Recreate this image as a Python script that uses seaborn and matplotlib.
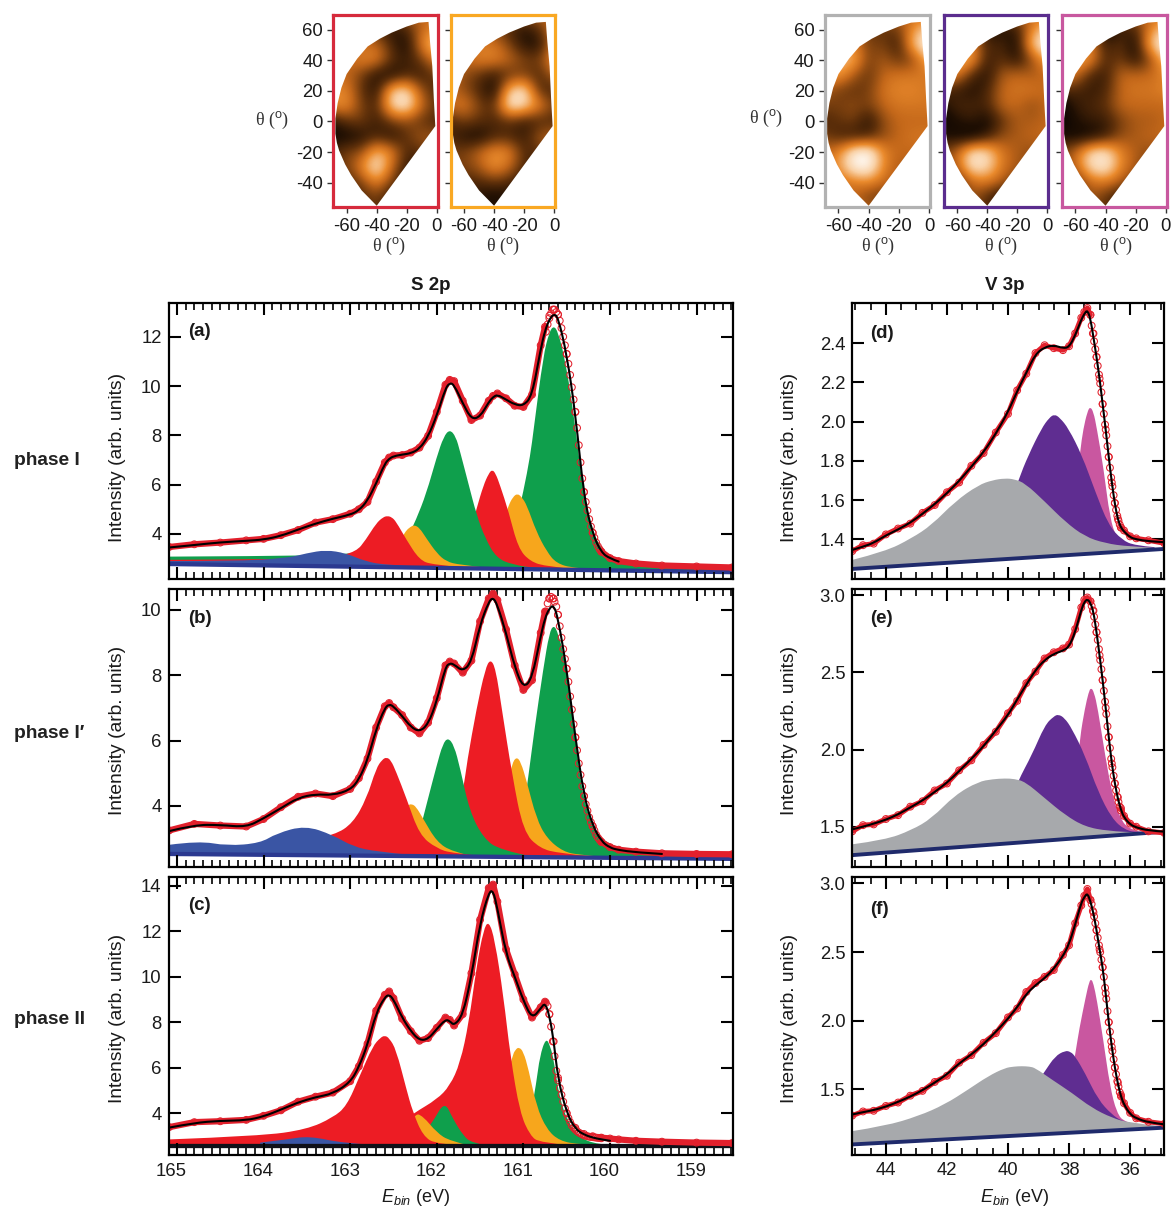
import numpy as np
import matplotlib
matplotlib.use("Agg")
import matplotlib.pyplot as plt
import matplotlib.transforms as mtrans
from matplotlib.colors import LinearSegmentedColormap
from matplotlib.patches import Polygon, PathPatch
from matplotlib.path import Path
from matplotlib.ticker import MultipleLocator, FixedLocator
import seaborn as sns

nan = np.nan
# ---------------- S 2p: shared energy grids ----------------
s_e = [165.09,164.8,164.5,164.2,164.0,163.8,163.6,163.4,163.2,163.0,162.9,162.8,162.7,162.6,162.55,162.5,162.4,162.3,162.2,162.1,162.0,161.9,161.85,161.8,161.7,161.6,161.5,161.4,161.35,161.3,161.2,161.1,161.0,160.9,160.8,160.75,160.7,160.65,160.6,160.5,160.4,160.3,160.2,160.1,160.0,159.9,159.7,159.4,159.0,158.59]
a_fit = [3.45,3.55,3.66,3.72,3.77,3.92,4.18,4.42,4.62,4.78,4.95,5.35,6.05,6.85,7.05,7.15,7.22,7.27,7.45,7.95,8.8,9.9,10.13,10.05,9.3,8.65,8.75,9.35,9.55,9.65,9.45,9.25,9.2,9.6,11.5,12.25,12.7,12.92,12.8,11.3,8.9,5.5,4.0,3.25,3.0,2.88,nan,nan,nan,nan]
a_meas = [3.47,3.58,3.65,3.74,3.8,3.95,4.16,4.46,4.6,4.82,5.0,5.3,6.12,6.9,7.1,7.18,7.2,7.3,7.5,7.98,8.95,10.05,10.25,10.2,9.4,8.62,8.8,9.4,9.6,9.7,9.5,9.2,9.15,9.65,11.65,12.4,12.85,13.1,12.9,11.3,8.95,5.7,4.05,3.28,3.02,2.9,2.8,2.72,2.68,2.64]
b_fit = [3.23,3.42,3.42,3.35,3.62,3.93,4.25,4.36,4.33,4.49,4.8,5.4,6.35,7.0,7.11,7.05,6.75,6.42,6.27,6.5,7.2,8.25,8.37,8.33,8.12,8.4,9.55,10.25,10.38,10.15,9.3,8.25,7.6,7.9,9.2,9.75,10.05,10.15,9.74,8.2,6.1,4.3,3.4,2.92,2.72,2.65,2.58,2.53,nan,nan]
b_meas = [3.25,3.45,3.4,3.37,3.6,3.96,4.28,4.38,4.3,4.52,4.85,5.45,6.4,7.05,7.15,7.02,6.78,6.4,6.22,6.55,7.3,8.3,8.42,8.36,8.08,8.45,9.65,10.35,10.5,10.3,9.4,8.3,7.55,7.85,9.3,9.95,10.35,10.35,9.85,8.2,6.1,4.3,3.38,2.9,2.74,2.66,2.6,2.55,2.53,2.52]
c_fit = [3.36,3.57,3.66,3.68,3.85,4.15,4.47,4.7,4.85,5.35,6.02,7.0,8.41,9.1,9.21,9.0,8.2,7.6,7.2,7.25,7.7,8.11,8.05,7.85,8.3,10.0,12.36,13.7,13.8,13.0,11.0,10.0,8.95,8.15,8.6,8.85,8.3,7.2,5.5,4.0,3.3,3.05,2.92,2.84,2.78,nan,nan,nan,nan,nan]
c_meas = [3.38,3.6,3.64,3.7,3.88,4.12,4.5,4.72,4.9,5.4,6.05,7.05,8.5,9.2,9.35,9.05,8.15,7.6,7.18,7.3,7.75,8.2,8.1,7.85,8.35,10.15,12.5,13.9,14.05,13.3,11.2,10.1,9.0,8.2,8.65,8.9,8.35,7.15,5.55,4.0,3.35,3.08,2.98,2.92,2.88,2.84,2.78,2.74,2.7,2.68]

# falling edge of the S 2p data, read circle by circle
s_edge_e = [160.74,160.72,160.70,160.68,160.66,160.64,160.62,160.60,160.58,160.56,160.54,160.52,160.50,160.48,160.46,160.44,160.42,160.40,160.38,160.36,160.34,160.32,160.30,160.28,160.26,160.24,160.22,160.20,160.18,160.16,160.14,160.12,160.10]
a_edge = [12.2,12.5,12.75,12.95,13.1,13.1,13.0,12.9,12.65,12.35,12.0,11.65,11.3,10.9,10.45,9.95,9.45,8.95,8.3,7.6,6.9,6.25,5.7,5.3,4.95,4.6,4.3,4.05,3.85,3.65,3.5,3.38,3.28]
b_edge = [9.95,10.2,10.35,10.4,10.35,10.25,10.1,9.85,9.5,9.15,8.8,8.5,8.2,7.8,7.35,6.95,6.5,6.1,5.7,5.3,4.95,4.6,4.3,4.05,3.85,3.65,3.5,3.38,3.25,3.12,3.03,2.96,2.9]
c_edge = [8.85,8.7,8.35,7.8,7.15,6.5,5.85,5.45,5.1,4.8,4.5,4.2,3.98,3.78,3.6,3.45,3.35,3.27,3.2,3.14,3.1,3.06,3.02,3.0,2.98,2.96,2.95,2.94,2.93,2.92,2.91,2.9,2.89]

# ---------------- S 2p components: panel (a) ----------------
a_blue_e = [165.09,164.35,163.74,163.5,163.28,163.05,162.82,162.58,162.2]
a_blue_i = [2.9,2.9,3.01,3.22,3.35,3.22,2.88,2.74,2.68]
a_red1_e = [165.09,163.6,163.2,162.93,162.82,162.7,162.62,162.57,162.52,162.47,162.35,162.2,162.05,161.7]
a_red1_i = [2.95,2.98,3.05,3.28,3.76,4.43,4.68,4.73,4.68,4.5,3.76,2.95,2.75,2.65]
a_org1_e = [162.5,162.37,162.3,162.26,162.2,162.12,162.0,161.89,161.74,161.4]
a_org1_i = [3.3,4.09,4.3,4.36,4.25,3.82,3.22,2.88,2.75,2.62]
a_grn1_e = [165.09,164.0,163.2,162.5,162.35,162.24,162.12,162.0,161.92,161.85,161.78,161.73,161.63,161.54,161.44,161.31,161.12,160.85,160.4]
a_grn1_i = [3.08,3.1,3.15,3.35,3.76,4.57,5.65,7.13,7.95,8.24,7.95,7.33,5.98,4.77,3.82,3.02,2.75,2.61,2.5]
a_red2_e = [162.0,161.73,161.62,161.54,161.46,161.4,161.36,161.32,161.27,161.17,161.06,160.92,160.73,160.3]
a_red2_i = [2.8,3.15,3.96,5.04,5.98,6.45,6.61,6.45,5.98,4.9,3.42,2.88,2.68,2.52]
a_org2_e = [161.5,161.3,161.17,161.12,161.07,161.02,160.96,160.85,160.73,160.62,160.42,160.0]
a_org2_i = [2.8,3.9,5.17,5.5,5.64,5.5,5.17,4.09,3.29,2.81,2.61,2.5]
a_grn2_e = [161.55,161.38,161.23,161.1,161.0,160.92,160.88,160.77,160.7,160.65,160.6,160.52,160.42,160.31,160.19,159.96,159.65,158.59]
a_grn2_i = [2.62,2.75,3.02,4.23,5.71,7.19,8.27,11.23,12.2,12.44,12.2,11.1,8.94,5.71,3.82,2.88,2.68,2.55]
a_base_e = [165.09,158.59]
a_base_i = [2.78,2.45]

# ---------------- S 2p components: panel (b) ----------------
b_blue_e = [165.09,164.75,164.42,164.04,163.85,163.52,163.2,162.97,162.7,162.3]
b_blue_i = [2.81,2.93,2.78,2.86,3.16,3.4,3.11,2.76,2.6,2.5]
b_red1_e = [164.45,164.3,164.05,163.6,163.18,162.97,162.81,162.7,162.63,162.58,162.53,162.47,162.35,162.2,162.0,161.82,161.4]
b_red1_i = [2.7,2.78,2.8,2.9,3.11,3.47,4.23,5.15,5.42,5.49,5.4,5.05,4.23,3.11,2.7,2.55,2.45]
b_org1_e = [162.6,162.4,162.33,162.29,162.24,162.16,162.0,161.82,161.6]
b_org1_i = [2.8,3.9,4.03,4.06,3.98,3.62,2.9,2.6,2.47]
b_grn1_e = [162.5,162.2,162.12,162.0,161.93,161.87,161.8,161.73,161.62,161.46,161.27,160.9]
b_grn1_i = [2.7,3.2,4.03,5.25,5.9,6.09,5.85,5.15,3.83,3.01,2.65,2.45]
b_red2_e = [162.1,161.85,161.69,161.65,161.54,161.44,161.38,161.32,161.25,161.13,161.0,160.81,160.58,160.2]
b_red2_i = [2.55,2.9,4.54,5.36,6.99,8.2,8.5,8.2,6.99,4.95,3.21,2.7,2.55,2.45]
b_org2_e = [161.4,161.2,161.13,161.08,161.03,160.96,160.85,160.73,160.54,160.35,160.0]
b_org2_i = [2.7,4.5,5.3,5.5,5.35,4.74,3.62,3.01,2.6,2.5,2.42]
b_grn2_e = [161.4,161.15,161.0,160.94,160.87,160.77,160.7,160.65,160.6,160.52,160.42,160.31,160.15,159.96,159.65,158.59]
b_grn2_i = [2.6,2.9,3.8,4.95,6.38,8.2,9.3,9.54,9.3,8.5,6.48,4.13,3.11,2.76,2.6,2.5]
b_base_e = [165.09,158.59]
b_base_i = [2.53,2.38]

# ---------------- S 2p components: panel (c) ----------------
c_blue_e = [164.04,163.73,163.47,163.08,162.7]
c_blue_i = [2.7,2.84,2.99,2.67,2.6]
c_red1_e = [165.09,164.04,163.5,163.2,163.04,162.89,162.74,162.65,162.6,162.55,162.47,162.35,162.28,162.16,162.0,161.6]
c_red1_i = [2.84,2.99,3.28,3.8,4.31,5.63,6.94,7.32,7.41,7.3,6.8,5.04,4.09,2.99,2.62,2.55]
c_org1_e = [162.4,162.26,162.16,162.0,161.85,161.6]
c_org1_i = [3.0,4.0,3.87,3.14,2.77,2.55]
c_grn1_e = [162.2,162.05,161.91,161.81,161.69,161.6,161.4]
c_grn1_i = [2.8,3.58,4.53,3.72,2.99,2.7,2.55]
c_red2_e = [163.0,162.6,162.26,162.0,161.85,161.73,161.63,161.54,161.46,161.4,161.33,161.23,161.15,161.04,160.92,160.81,160.4]
c_red2_i = [2.7,3.1,4.01,4.6,5.19,6.2,7.97,10.46,12.07,12.46,11.63,9.14,6.5,4.01,3.0,2.7,2.55]
c_org2_e = [161.4,161.13,161.09,161.05,161.0,160.94,160.85,160.73,160.58,160.35,160.0]
c_org2_i = [2.8,6.5,6.8,6.9,6.7,5.92,4.31,3.28,2.77,2.62,2.55]
c_grn2_e = [161.1,160.94,160.85,160.81,160.74,160.69,160.65,160.58,160.48,160.35,160.15,159.9]
c_grn2_i = [2.6,3.4,5.33,6.5,7.31,6.95,6.36,4.6,3.58,2.92,2.62,2.55]
c_base_e = [165.09,158.59]
c_base_i = [2.54,2.54]

# ---------------- V 3p: shared energy grids ----------------
v_e = [45.1,44.75,44.4,44.0,43.6,43.2,42.8,42.4,42.0,41.6,41.2,40.8,40.4,40.0,39.7,39.4,39.1,38.8,38.5,38.2,38.0,37.8,37.6,37.5,37.4,37.3,37.2,37.1,37.0,36.9,36.8,36.7,36.6,36.5,36.4,36.3,36.2,36.0,35.8,35.4,34.88]
d_fit = [1.346,1.362,1.382,1.42,1.45,1.485,1.53,1.58,1.635,1.698,1.77,1.845,1.938,2.05,2.155,2.25,2.345,2.38,2.39,2.375,2.38,2.44,2.52,2.55,2.57,2.525,2.43,2.33,2.22,2.09,1.96,1.82,1.69,1.58,1.5,1.46,1.44,1.41,1.4,1.39,1.385]
d_meas = [1.34,1.37,1.378,1.425,1.455,1.48,1.535,1.575,1.64,1.69,1.775,1.84,1.945,2.04,2.16,2.245,2.35,2.39,2.375,2.365,2.385,2.45,2.53,2.56,2.58,2.545,2.45,2.33,2.22,2.09,1.96,1.82,1.69,1.585,1.505,1.46,1.445,1.415,1.405,1.395,1.38]
e_fit = [1.483,1.5,1.52,1.545,1.58,1.625,1.67,1.725,1.785,1.86,1.94,2.02,2.125,2.222,2.325,2.42,2.515,2.58,2.62,2.64,2.665,2.76,2.905,2.955,2.975,2.95,2.893,2.76,2.61,2.45,2.27,2.08,1.91,1.78,1.68,1.61,1.56,1.515,1.495,1.475,1.468]
e_meas = [1.47,1.51,1.515,1.55,1.575,1.63,1.665,1.735,1.78,1.865,1.93,2.03,2.115,2.235,2.315,2.43,2.505,2.59,2.63,2.655,2.68,2.78,2.92,2.97,2.985,2.96,2.9,2.76,2.61,2.45,2.27,2.08,1.91,1.78,1.69,1.62,1.57,1.52,1.5,1.47,1.46]
f_fit = [1.318,1.335,1.35,1.375,1.41,1.448,1.495,1.55,1.61,1.69,1.755,1.83,1.92,2.015,2.1,2.195,2.26,2.31,2.38,2.47,2.56,2.7,2.86,2.9,2.93,2.87,2.783,2.66,2.52,2.39,2.2,1.99,1.81,1.66,1.54,1.45,1.39,1.32,1.29,1.26,1.246]
f_meas = [1.31,1.34,1.345,1.38,1.405,1.455,1.49,1.555,1.6,1.695,1.75,1.84,1.91,2.025,2.09,2.21,2.275,2.32,2.37,2.48,2.55,2.71,2.84,2.91,2.96,2.88,2.79,2.66,2.52,2.39,2.2,1.99,1.81,1.66,1.55,1.46,1.4,1.33,1.29,1.265,1.25]

v_edge_e = [37.30,37.26,37.22,37.18,37.14,37.10,37.06,37.02,36.98,36.94,36.90,36.86,36.82,36.78,36.74,36.70,36.66,36.62,36.58,36.54,36.50,36.46,36.42,36.38,36.34,36.30]
d_edge = [2.545,2.49,2.45,2.41,2.37,2.33,2.285,2.24,2.195,2.15,2.09,2.04,1.985,1.93,1.875,1.82,1.765,1.715,1.67,1.625,1.585,1.55,1.52,1.495,1.475,1.46]
e_edge = [2.96,2.93,2.90,2.86,2.81,2.76,2.71,2.65,2.58,2.52,2.45,2.38,2.31,2.23,2.15,2.08,2.01,1.94,1.885,1.83,1.78,1.735,1.695,1.66,1.63,1.605]
f_edge = [2.88,2.85,2.80,2.76,2.71,2.66,2.605,2.55,2.50,2.445,2.39,2.32,2.24,2.16,2.07,1.99,1.92,1.85,1.78,1.72,1.66,1.61,1.56,1.52,1.48,1.45]

# ---------------- V 3p components ----------------
d_gray_e = [45.1,44.03,43.16,42.5,41.74,40.97,40.5,40.1,39.8,39.44,38.79,38.13,37.48,36.82,36.05,34.88]
d_gray_i = [1.295,1.337,1.405,1.473,1.592,1.677,1.702,1.711,1.707,1.686,1.592,1.49,1.414,1.38,1.363,1.354]
d_purp_e = [40.0,39.66,39.33,38.9,38.65,38.48,38.3,38.02,37.58,37.14,36.71,36.27,35.84,35.2]
d_purp_i = [1.55,1.703,1.83,1.966,2.02,2.038,2.02,1.966,1.83,1.643,1.473,1.397,1.368,1.36]
d_pink_e = [38.4,38.0,37.8,37.64,37.53,37.4,37.31,37.2,37.09,36.87,36.66,36.44,36.17,35.6]
d_pink_i = [1.38,1.45,1.6,1.847,1.966,2.05,2.077,2.05,1.966,1.762,1.507,1.405,1.37,1.36]
d_base_e = [45.1,34.88]
d_base_i = [1.249,1.351]

e_gray_e = [45.1,44.03,43.16,42.5,41.74,40.97,40.5,40.1,39.8,39.44,38.79,38.13,37.48,36.71,35.73,34.88]
e_gray_i = [1.386,1.414,1.478,1.554,1.705,1.792,1.808,1.813,1.81,1.792,1.684,1.576,1.5,1.472,1.463,1.457]
e_purp_e = [40.1,39.66,39.22,38.79,38.5,38.35,38.15,37.91,37.48,37.05,36.6,36.17,35.73,35.2]
e_purp_i = [1.6,1.802,1.964,2.159,2.215,2.228,2.205,2.137,1.964,1.727,1.554,1.478,1.463,1.46]
e_pink_e = [38.4,38.0,37.8,37.64,37.48,37.36,37.28,37.18,37.06,36.82,36.6,36.38,36.05,35.5]
e_pink_i = [1.45,1.55,1.75,2.083,2.267,2.37,2.403,2.37,2.267,1.964,1.727,1.576,1.478,1.46]
e_base_e = [45.1,34.88]
e_base_i = [1.316,1.468]

f_gray_e = [45.1,44.03,42.94,42.07,41.3,40.65,40.1,39.8,39.55,39.3,39.11,38.57,37.91,37.26,36.6,36.05,34.88]
f_gray_i = [1.197,1.234,1.306,1.391,1.5,1.597,1.657,1.667,1.67,1.667,1.657,1.573,1.476,1.367,1.294,1.258,1.229]
f_purp_e = [39.2,38.79,38.46,38.13,37.95,37.8,37.48,37.05,36.6,36.27,35.8,35.2]
f_purp_i = [1.5,1.633,1.742,1.783,1.775,1.742,1.621,1.427,1.318,1.27,1.245,1.235]
f_pink_e = [38.4,38.0,37.78,37.67,37.45,37.34,37.27,37.2,37.09,36.88,36.66,36.44,36.17,35.6]
f_pink_i = [1.35,1.5,1.778,1.936,2.178,2.285,2.304,2.27,2.154,1.863,1.524,1.33,1.258,1.235]
f_base_e = [45.1,34.88]
f_base_i = [1.1,1.222]

# ---------------- photoemission maps (0 black .. 10 white) ----------------
map_theta_x = [-70,-60,-50,-40,-30,-20,-10,0]
map_theta_y = [70,60,50,40,30,20,10,0,-10,-20,-30,-40,-50,-60]
map_red = [[5,5,5,5,5,5,5,5],[5,5,5,2.5,1.5,2.5,5,6],[5,5,5,5,2.5,1,6,8.5],[5,5,6,6,3,2,3.5,6],[5,5,3.5,1.5,1,2.5,2,3.5],[6,6,3,1.5,8,8.5,4,2.5],[6,6.5,3.5,2.5,8.5,9.5,5,3],[1.5,3,3.5,2,3.5,4,3,2.5],[1,1,1.5,2.5,1.5,3,4.5,4],[2.5,3.5,4,7.5,6,2.5,3,4],[2.5,3.5,6,9.5,5,2,1.5,2.5],[2.5,2.5,3.5,6,3.5,1.5,1.5,2.5],[2.5,2.5,2.5,3.5,1.5,1.5,2.5,2.5],[3,3,3,3,3,3,3,3]]
map_orange = [[5,5,5,5,5,5,5,5],[5,5,5,3.5,2.5,1.5,3,6],[5,5,5.5,5.5,3.5,1.5,1.5,6],[5,5,6,6,5,3.5,3.5,7],[5,4,3,2,3,3.5,2.5,5],[5,4,2.5,1,8,9,2.5,2.5],[5,6,3.5,3,9.5,8.5,6,3.5],[2.5,3.5,3,2.5,3,2,2.5,2.5],[2.5,1.5,1,2.5,2.5,2,4.5,5],[3.5,3.5,5,6.5,6,2.5,3,4],[3.5,3.5,4.5,6.5,5,2.5,2,2.5],[2.5,2.5,2.5,3,2.5,1.5,1.5,2.5],[2.5,2.5,1.5,1,1.5,1.5,1.5,2.5],[2,2,2,2,2,2,2,2]]
map_gray = [[5,5,5,5,5,5,5,5],[5,5,5,3,3,3.5,6.5,8],[5,6,6,3.5,3.5,2,8,10],[6,7.5,7.5,3.5,4.5,3,4,7.5],[6,7,4.5,3,5,5.5,5.5,5.5],[4.5,3.5,3,3.5,5.5,6,6,5.5],[3.5,3.5,4,3.5,5,5.5,5.5,5.5],[2.5,3,3.5,1.5,4,5,5,5],[3.5,2.5,2,2.5,4,5,5.5,5.5],[5,6,9.5,10,6,5,5,5],[5,6.5,9.5,10,6,4.5,4.5,5],[5,5,5.5,6,5,4.5,4,5],[5,5,5,3.5,3,4,4,5],[5,5,5,5,5,5,5,5]]
map_purple = [[5,5,5,5,5,5,5,5],[5,5,5,1,1.5,2,6,8],[5,6,6,2.5,2.5,1,8,10],[6,7.5,7,2,3,1.5,4,7],[6,6,2.5,1.5,4.5,5,4.5,5],[2.5,2,1.5,2.5,5,5.5,5.5,5],[1.5,2.5,2.5,2.5,5,5,4,5],[0.5,1.5,2,1,3,4.5,4.5,5],[1.5,1,0.5,2,4,4.5,5,5],[3.5,5,9,8.5,5.5,4.5,4,4],[3,5,9,8.5,5.5,4.5,3.5,3.5],[2.5,2,5,5.5,4.5,3,2.5,2.5],[2.5,2.5,4.5,2.5,1,1.5,2.5,2.5],[3,3,3,3,3,3,3,3]]
map_pink = [[5,5,5,5,5,5,5,5],[5,5,5,0.5,2,2.5,6,8],[5,6,6,2,3,1,8,10],[6,7,6.5,2.5,3.5,1.5,4,8],[6,5.5,2.5,2,5,5,5,6],[2.5,2.5,2,2.5,5,5.5,5.5,6],[0.5,2,2.5,3,5,5,5,5],[0,1.5,2,2,3.5,4.5,4.5,5],[1.5,1,1,2,4,4.5,5,5],[3.5,5,8.5,9,6,4.5,4,4],[3,5,8.5,9.5,6,4.5,3,3.5],[2.5,2.5,5,5.5,4.5,3,2,2],[2.5,2.5,4.5,3,1.5,1,1.5,2.5],[3,3,3,3,3,3,3,3]]
fan_x = [-40,-1,-2,-3,-4.5,-5.5,-12,-20,-30,-38,-46,-53,-60,-63.5,-66,-67.5,-67.5,-66.5,-65,-61,-57,-50,-40]
fan_y = [-55,-3,15,36,52,65,64.5,62,58,54,49,41,31,22,12,2,-8,-14,-19,-28,-35,-45,-55]
map_ticks_x = [-60,-40,-20,0]
map_ticks_y = [60,40,20,0,-20,-40]
s_ticks_a = [12,10,8,6,4]
s_ticks_b = [10,8,6,4]
s_ticks_c = [14,12,10,8,6,4]
v_ticks_d = [2.4,2.2,2.0,1.8,1.6,1.4]
v_ticks_e = [3.0,2.5,2.0,1.5]
v_ticks_f = [3.0,2.5,2.0,1.5]

# ---------------- styling ----------------
W, H = 1173, 1209
sns.set_theme(style="ticks", rc={"axes.unicode_minus": False})
plt.rcParams["font.family"] = ["Liberation Sans", "DejaVu Sans"]
plt.rcParams.update({"mathtext.fontset": "custom", "mathtext.rm": "Liberation Sans",
                     "mathtext.it": "Liberation Sans:italic", "mathtext.bf": "Liberation Sans:bold",
                     "mathtext.fallback": "stix"})
C = dict(red="#ed1c24", org="#f7a61c", grn="#0f9f4c", blue="#3a55a4", gray="#a7a9ac",
         purp="#5f2d91", pink="#c957a0")
DOT = "#e2202c"
INK = "#1a1a1a"
fig = plt.figure(figsize=(W / 100, H / 100), dpi=100)

def new_ax(x0, y0, x1, y1):
    return fig.add_axes([x0 / W, 1 - y1 / H, (x1 - x0) / W, (y1 - y0) / H])

def text(px, py, s, **kw):
    kw.setdefault("ha", "center")
    kw.setdefault("va", "center")
    fig.text(px / W, 1 - py / H, s, **kw)

def curve_path(xs, ys):
    """Smooth quadratic path whose control points are the values that were read."""
    p = np.column_stack([xs, ys])
    verts, codes = [tuple(p[0])], [Path.MOVETO]
    for i in range(1, len(p) - 1):
        end = p[i + 1] if i == len(p) - 2 else (p[i] + p[i + 1]) / 2
        verts += [tuple(p[i]), tuple(end)]
        codes += [Path.CURVE3, Path.CURVE3]
    return verts, codes

def draw_panel(ax, comps, base_e, base_i, base_col, base_lw, e, fit, meas, edge_e, edge_i, edge_hi, edge_lo, band):
    ax.set_axisbelow(False)
    for name, xs, ys in comps:
        verts, codes = curve_path(xs, ys)
        b = np.interp([xs[-1], xs[0]], base_e[::-1], base_i[::-1])
        verts += [(xs[-1], b[0]), (xs[0], b[1]), verts[0]]
        codes += [Path.LINETO, Path.LINETO, Path.CLOSEPOLY]
        ax.add_patch(PathPatch(Path(verts, codes), fc=C[name], ec="none", lw=0, zorder=2))
    sns.lineplot(x=base_e, y=base_i, ax=ax, color=base_col, lw=base_lw, zorder=2.2, errorbar=None,
                 estimator=None, sort=False, legend=False)
    ea, ma, fa = np.array(e), np.array(meas), np.array(fit)
    for mask in (ea >= edge_hi, ea <= edge_lo):
        sns.lineplot(x=ea[mask], y=ma[mask], ax=ax, color=DOT, lw=band, zorder=3, errorbar=None,
                     estimator=None, sort=False, legend=False)
    sns.scatterplot(x=list(e) + list(edge_e), y=list(meas) + list(edge_i), ax=ax, s=24, facecolor="none",
                    edgecolor=DOT, linewidth=0.75, zorder=3.2, legend=False)
    ok = ~np.isnan(fa)
    verts, codes = curve_path(ea[ok], fa[ok])
    ax.add_patch(PathPatch(Path(verts, codes), fc="none", ec="black", lw=1.5, zorder=3.5, capstyle="round"))

def style_panel(ax, xlim, ylim, yticks, xmaj, xmin, ylab_fmt, show_x):
    ax.set_xlim(*xlim)
    ax.set_ylim(*ylim)
    ax.xaxis.set_major_locator(MultipleLocator(xmaj))
    ax.xaxis.set_minor_locator(MultipleLocator(xmin))
    ax.yaxis.set_major_locator(FixedLocator(yticks))
    ax.set_yticklabels([ylab_fmt.format(v) for v in yticks])
    ax.set_xlabel("")
    ax.set_ylabel("")
    ax.tick_params(axis="both", which="major", direction="in", top=True, right=True, length=8.5, width=1.5,
                   labelsize=13.3, pad=5, colors="black", labelcolor=INK)
    ax.tick_params(axis="x", which="minor", direction="in", top=True, bottom=True, length=5, width=1.2, color="black")
    ax.tick_params(axis="x", labelbottom=show_x)
    for s in ax.spines.values():
        s.set_linewidth(1.6)
        s.set_color("black")
        s.set_visible(True)
        s.set_zorder(6)

S_XLIM = (165.098, 158.585)
V_XLIM = (45.1, 34.88)
YLABEL_CENTRES = [457, 730, 1018]

panels_s = [
    ("(a)", (168.5, 302.7, 732.5, 579.3), (2.16, 13.38), s_ticks_a, 331,
     [("grn", a_grn2_e, a_grn2_i), ("org", a_org2_e, a_org2_i), ("red", a_red2_e, a_red2_i),
      ("grn", a_grn1_e, a_grn1_i), ("org", a_org1_e, a_org1_i), ("red", a_red1_e, a_red1_i), ("blue", a_blue_e, a_blue_i)],
     a_base_e, a_base_i, "#2b3990", a_fit, a_meas, a_edge),
    ("(b)", (168.5, 589, 732.5, 866.7), (2.14, 10.64), s_ticks_b, 618,
     [("grn", b_grn2_e, b_grn2_i), ("org", b_org2_e, b_org2_i), ("red", b_red2_e, b_red2_i),
      ("grn", b_grn1_e, b_grn1_i), ("org", b_org1_e, b_org1_i), ("red", b_red1_e, b_red1_i), ("blue", b_blue_e, b_blue_i)],
     b_base_e, b_base_i, "#2b3990", b_fit, b_meas, b_edge),
    ("(c)", (168.5, 877.3, 732.5, 1155), (2.155, 14.37), s_ticks_c, 906,
     [("grn", c_grn2_e, c_grn2_i), ("org", c_org2_e, c_org2_i), ("red", c_red2_e, c_red2_i),
      ("grn", c_grn1_e, c_grn1_i), ("org", c_org1_e, c_org1_i), ("red", c_red1_e, c_red1_i), ("blue", c_blue_e, c_blue_i)],
     c_base_e, c_base_i, "#101018", c_fit, c_meas, c_edge),
]
for i, (lab, box, yl, yt, ly, comps, be, bi, bc, fit, meas, edge) in enumerate(panels_s):
    ax = new_ax(*box)
    draw_panel(ax, comps, be, bi, bc, 3.1, s_e, fit, meas, s_edge_e, edge, 160.74, 160.1, 4.5)
    style_panel(ax, S_XLIM, yl, yt, 1, 0.1, "{:.0f}", i == 2)
    if i == 2:
        off = mtrans.ScaledTranslation(-5.5 / 100, -1 / 100, fig.dpi_scale_trans)
        for t in ax.get_xticklabels():
            t.set_transform(t.get_transform() + off)
    text(188, ly, lab, ha="left", fontsize=13.5, fontweight="bold", color=INK)
    text(117, YLABEL_CENTRES[i], "Intensity (arb. units)", rotation=90, fontsize=13.9, color=INK)

panels_v = [
    ("(d)", (852.3, 303.3, 1164.3, 579.3), (1.196, 2.604), v_ticks_d, 333,
     [("pink", d_pink_e, d_pink_i), ("purp", d_purp_e, d_purp_i), ("gray", d_gray_e, d_gray_i)],
     d_base_e, d_base_i, d_fit, d_meas, d_edge),
    ("(e)", (852.3, 589, 1164.3, 866.7), (1.241, 3.04), v_ticks_e, 618,
     [("pink", e_pink_e, e_pink_i), ("purp", e_purp_e, e_purp_i), ("gray", e_gray_e, e_gray_i)],
     e_base_e, e_base_i, e_fit, e_meas, e_edge),
    ("(f)", (852.3, 877.3, 1164.3, 1155), (1.023, 3.045), v_ticks_f, 910,
     [("pink", f_pink_e, f_pink_i), ("purp", f_purp_e, f_purp_i), ("gray", f_gray_e, f_gray_i)],
     f_base_e, f_base_i, f_fit, f_meas, f_edge),
]
for i, (lab, box, yl, yt, ly, comps, be, bi, fit, meas, edge) in enumerate(panels_v):
    ax = new_ax(*box)
    draw_panel(ax, comps, be, bi, "#1f2a6b", 2.8, v_e, fit, meas, v_edge_e, edge, 37.3, 36.3, 3.6)
    style_panel(ax, V_XLIM, yl, yt, 2, 0.5, "{:.1f}", i == 2)
    text(870, ly, lab, ha="left", fontsize=13.5, fontweight="bold", color=INK)
    text(789, YLABEL_CENTRES[i], "Intensity (arb. units)", rotation=90, fontsize=13.9, color=INK)

text(431, 285, "S 2p", fontsize=13.5, fontweight="bold", color=INK)
text(1005, 285, "V 3p", fontsize=13.5, fontweight="bold", color=INK)
text(14, 461, "phase I", ha="left", fontsize=13.8, fontweight="bold", color="#222222")
text(14, 734, "phase I\u2032", ha="left", fontsize=13.8, fontweight="bold", color="#222222")
text(14, 1020, "phase II", ha="left", fontsize=13.8, fontweight="bold", color="#222222")
EBIN = r"$\mathit{E}_{\mathit{bin}}$ (eV)"
text(416, 1197, EBIN, fontsize=13, color=INK)
text(1015, 1197, EBIN, fontsize=13, color=INK)

# maps
cmap = LinearSegmentedColormap.from_list("arpes", [(0, "#000000"), (0.15, "#1f0f03"), (0.3, "#5f300a"), (0.5, "#c4681a"),
                                                    (0.62, "#ea8a2c"), (0.8, "#f9d0a4"), (1, "#ffffff")])
maps = [(map_red, (333.3, 15, 437.7, 207.3), "#d62a3c", True, 389),
        (map_orange, (450.7, 15, 555, 207.3), "#f9a823", False, 503),
        (map_gray, (825, 15, 930, 207.3), "#b2b2b2", True, 878),
        (map_purple, (944, 15, 1048, 207.3), "#5b2d8e", False, 1001),
        (map_pink, (1062, 15, 1166.7, 207.3), "#c8589f", False, 1116)]
THETA = "\u03b8 ($^{\\mathrm{o}}$)"
for vals, box, col, ylab, lx in maps:
    ax = new_ax(*box)
    extent = (map_theta_x[0] - 5, map_theta_x[-1] + 5, map_theta_y[-1] - 5, map_theta_y[0] + 5)
    im = ax.imshow(np.array(vals), cmap=cmap, vmin=0, vmax=10, extent=extent, origin="upper",
                   interpolation="bicubic", aspect="auto")
    patch = Polygon(np.column_stack([fan_x, fan_y]), closed=True, transform=ax.transData, fc="none", ec="none")
    ax.add_patch(patch)
    im.set_clip_path(patch)
    ax.set_xlim(-68.9, 0.6)
    ax.set_ylim(-56, 69.5)
    ax.set_xticks(map_ticks_x)
    ax.set_yticks(map_ticks_y)
    ax.tick_params(axis="both", direction="out", length=4, width=1, labelsize=13.3, pad=3.5,
                   labelleft=ylab, colors="#333333", labelcolor=INK)
    ax.grid(False)
    for s in ax.spines.values():
        s.set_color(col)
        s.set_linewidth(2.3)
        s.set_visible(True)
    text(lx, 246, THETA, fontsize=13, color="#333333", family="Liberation Serif")
text(272, 120, THETA, fontsize=13, color="#333333", family="Liberation Serif")
text(766, 118, THETA, fontsize=13, color="#333333", family="Liberation Serif")

fig.savefig("out.png", dpi=100)
